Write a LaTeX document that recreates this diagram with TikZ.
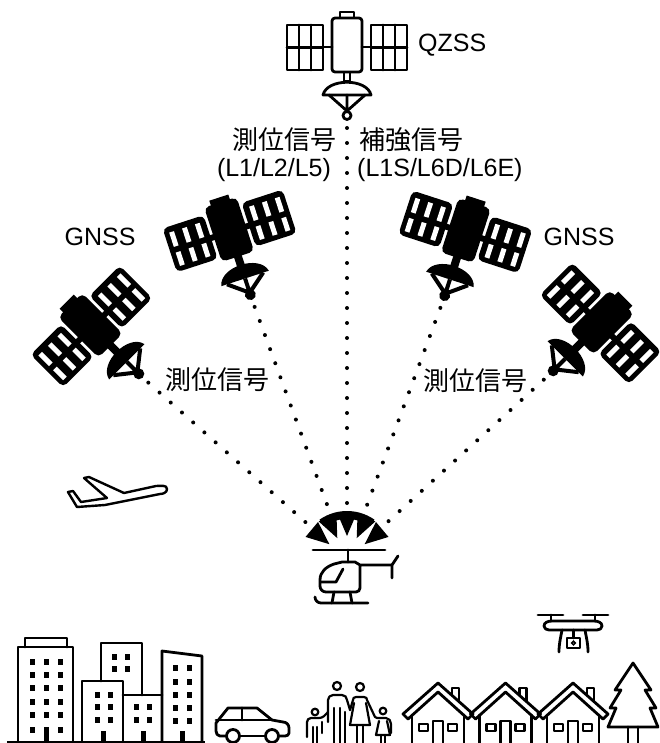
\documentclass[tikz,border=0pt]{standalone}
\usepackage{fontspec}
\setmainfont{Liberation Sans}
\newfontfamily\jp{Noto Sans CJK JP}
\usetikzlibrary{calc}

\tikzset{
  icon/.style={line width=2.8pt, line join=round, line cap=round},
  signal/.style={line width=4pt, line cap=round, dash pattern=on 0pt off 15pt,
                 shorten <=8pt, shorten >=50pt},
  txt/.style={font=\fontsize{25}{30}\selectfont, inner sep=0pt},
  jtxt/.style={font=\jp\fontsize{26}{30}\selectfont, inner sep=0pt},
  % outline satellite (QZSS)
  pics/qzss/.style={code={
    \draw[icon] (-7,-33) rectangle (7,-27);
    \draw[icon, rounded corners=3pt] (-15,-27) rectangle (15,27);
    \foreach \side in {-1,1} {
      \draw[icon] (\side*24,-20) rectangle (\side*60,25);
      \draw[icon] (\side*36,-20) -- (\side*36,25) (\side*48,-20) -- (\side*48,25)
                  (\side*24,2.5) -- (\side*60,2.5);
      \draw[icon] (\side*15,2) -- (\side*24,2);
    }
    \draw[icon] (-3,27) rectangle (3,36);
    \draw[icon] (-24,50) .. controls (-20,33) and (20,33) .. (24,50) -- cycle;
    \draw[icon] (-18,50) -- (0,66) -- (18,50) (0,50) -- (0,66);
    \draw[icon] (0,70.5) circle (4pt);
    \coordinate (-tip) at (0,75);
  }},
  % filled satellite (GNSS)
  pics/gnss/.style={code={
    \fill (-10,-33) rectangle (10,-25);
    \fill[rounded corners=5pt] (-17,-28) rectangle (17,29);
    \foreach \side in {-1,1} {
      \fill[rounded corners=5pt] (\side*20,-21) rectangle (\side*63,25);
      \fill (\side*15,0) rectangle (\side*21,6);
      \foreach \c in {0,1,2} \foreach \r in {0,1}
        \fill[white] ({\side*(26+13.5*\c)},{-15+21*\r}) rectangle ({\side*(31+13.5*\c)},{0+20*\r});
    }
    \fill (-4,26) rectangle (4,40);
    \fill (-25,52) .. controls (-21,33) and (21,33) .. (25,52) -- cycle;
    \draw[line width=4pt, line join=round] (-19,52) -- (0,67) -- (19,52) (0,52) -- (0,67);
    \fill (0,69) circle (5.5pt);
    \coordinate (-tip) at (0,74);
  }},
}

\begin{document}
\begin{tikzpicture}[x=1pt, y=-1pt]
  \useasboundingbox (0,0) rectangle (659,743);
  \clip (0,0) rectangle (659,743);

  % satellites
  \pic (qzss) at (347,45) {qzss};
  \pic[rotate=45] (satB) at (90,325) {gnss};
  \pic[rotate=18] (satA) at (229,229) {gnss};
  \pic[rotate=-18] (satD) at (466,230) {gnss};
  \pic[rotate=-45] (satC) at (602,322) {gnss};

  \coordinate (heli) at (347,559);

  % signals
  \draw[signal] (qzss-tip) -- (heli);
  \draw[signal] (satA-tip) -- (heli);
  \draw[signal] (satB-tip) -- (heli);
  \draw[signal] (satC-tip) -- (heli);
  \draw[signal] (satD-tip) -- (heli);

  % labels
  \node[txt, anchor=west] (qzssName) at (418,45) {QZSS};
  \node[txt] (gnssLeft) at (100,237) {GNSS};
  \node[txt] (gnssRight) at (579,237) {GNSS};
  \node[jtxt] (posTop) at (284,140) {測位信号};
  \node[txt] (bandL) at (274,170) {(L1/L2/L5)};
  \node[jtxt] (augTop) at (411,140) {補強信号};
  \node[txt, anchor=west] (bandR) at (357,170) {(L1S/L6D/L6E)};
  \node[jtxt] (posLeft) at (217,380) {測位信号};
  \node[jtxt] (posRight) at (475,381) {測位信号};

  % reception burst
  \begin{scope}[shift={(heli)}]
    \fill plot[domain=-125:-55, samples=15] (\x:48) -- plot[domain=-55:-125, samples=15] (\x:40) -- cycle;
    \foreach \a in {-140,-115,-90,-65,-40}
      \fill (\a-12:47) -- (\a:23) -- (\a+12:47) -- cycle;
  \end{scope}

  % helicopter
  \draw[icon] (313,550) -- (385,550);
  \draw[icon] (348,550) -- (348,562);
  \draw[icon] (392,565) -- (360,565) -- (360,588) to[out=-90,in=0] (356,592) -- (326,592)
              to[out=180,in=-90] (320,586) -- (320,580) to[out=90,in=200] (334,564) -- (342,562)
              -- (355,562) -- (360,565);
  \draw[icon] (343,569) -- (336,582) -- (321,582);
  \draw[icon] (398,556) -- (392,565) -- (392,578);
  \draw[icon] (315,597) to[out=-90,in=180] (321,603) -- (368,603);
  \draw[icon] (334,592) -- (332,603) (350,592) -- (352,603);

  % airplane
  \draw[icon, line width=2.4pt] (68,492) -- (73,491) -- (81,502) -- (107,498) -- (84,478) -- (89,477)
        -- (124,493) -- (156,486) to[out=0,in=90] (167,489) to[out=-90,in=0] (160,494)
        -- (105,505) -- (77,507) -- cycle;

  % drone
  \draw[icon] (538,615) -- (563,615) (583,615) -- (608,615);
  \draw[icon] (551,615) -- (551,621) (595,615) -- (595,621);
  \draw[icon] (552,621) -- (594,621) to[out=0,in=90] (602,626) to[out=-90,in=0] (597,630)
              -- (549,630) to[out=180,in=-90] (544,626) to[out=90,in=180] (552,621);
  \draw[icon] (562,630) to[out=-100,in=90] (559,652) (585,630) to[out=-80,in=90] (588,652);
  \draw[icon] (573.5,630) -- (573.5,638);
  \draw[icon] (567,638) rectangle (580,648);
  \draw[line width=1.5pt] (573.5,643) circle (1.8pt);

  % buildings
  \draw[line width=1.2pt] (7,742) -- (205,742);
  \draw[icon] (18,743) -- (18,647) -- (73,647) -- (73,743);
  \draw[icon] (25,647) -- (25,638) -- (67,638) -- (67,647);
  \foreach \x in {32,46,60} \foreach \y in {662,675,688,702,715}
    \fill (\x-2.5,\y-3) rectangle (\x+2.5,\y+3);
  \foreach \x in {32,60} \fill (\x-2.5,727) rectangle (\x+2.5,733);
  \fill (43.5,727) rectangle (48.5,743);

  \draw[icon] (101,681) -- (101,643) -- (142,643) -- (142,695);
  \foreach \x in {114,127} \foreach \y in {657,669}
    \fill (\x-2.5,\y-3) rectangle (\x+2.5,\y+3);

  \draw[icon] (82,743) -- (82,681) -- (123,681) -- (123,743);
  \foreach \x in {97,110} \foreach \y in {695,707,720}
    \fill (\x-2.5,\y-3) rectangle (\x+2.5,\y+3);
  \fill (100.5,731) rectangle (105.5,743);

  \draw[icon] (123,695) -- (162,695);
  \foreach \x in {136,149} \foreach \y in {707,720}
    \fill (\x-2.5,\y-3) rectangle (\x+2.5,\y+3);
  \fill (140.5,731) rectangle (145.5,743);

  \draw[icon] (162,743) -- (162,651) -- (202,656) -- (202,743);
  \foreach \x in {175,189} \foreach \y in {668,682,695,708,721}
    \fill (\x-2.5,\y-3) rectangle (\x+2.5,\y+3);
  \fill (179.5,731) rectangle (184.5,743);

  % car
  \draw[icon] (240,736) -- (265,736);
  \draw[icon] (226,736) -- (220,736) to[out=180,in=-90] (216,731) -- (216,723) -- (228,708)
              -- (257,708) -- (272,720) -- (283,722) to[out=0,in=90] (289,728) -- (289,733)
              to[out=-90,in=0] (285,736) -- (279,736);
  \draw[icon] (233,736) circle (6.5pt) (272,736) circle (6.5pt);
  \draw[icon] (216,720) -- (272,720) (242,708) -- (242,720);

  % family
  \draw[icon, line width=2.2pt] (315,712) circle (3.3pt) (337,686) circle (4pt)
        (360,687) circle (4pt) (383,711) circle (3.3pt);
  \draw[icon, line width=2.2pt] (307,737) -- (307,722) to[out=90,in=180] (311,718) -- (319,718)
        to[out=0,in=-135] (328,712);
  \draw[icon, line width=2.2pt] (313,743) -- (313,727) (317,743) -- (317,727) (322,722) -- (322,733);
  \draw[icon, line width=2.2pt] (328,722) -- (328,700) to[out=90,in=180] (333,695) -- (342,695)
        to[out=0,in=90] (347,700) -- (350,710);
  \draw[icon, line width=2.2pt] (334,743) -- (334,708) (340,743) -- (340,708) (345,743) -- (345,712);
  \draw[icon, line width=2.2pt] (350,710) -- (353,700) to[out=110,in=180] (356,697) -- (364,697)
        to[out=0,in=70] (367,700) -- (375,717);
  \draw[icon, line width=2.2pt] (354,703) -- (350,725) -- (370,725) -- (366,703);
  \draw[icon, line width=2.2pt] (357,725) -- (357,743) (363,725) -- (363,743);
  \draw[icon, line width=2.2pt] (375,717) to[out=-45,in=180] (380,718) -- (386,718)
        to[out=0,in=90] (391,724) -- (391,733);
  \draw[icon, line width=2.2pt] (379,721) -- (376,735) -- (390,735) -- (387,721);
  \draw[icon, line width=2.2pt] (381,735) -- (381,743) (385,735) -- (385,743);

  % houses
  \foreach \p in {438,505.5,573} {
    \draw[icon] (\p-35,714) -- (\p,683) -- (\p+35,714) -- (\p+30,719) -- (\p,692) -- (\p-30,719) -- cycle;
    \draw[icon] (\p+14,695) -- (\p+14,688) -- (\p+21,688) -- (\p+21,701);
    \draw[icon] (\p-26,715) -- (\p-26,743) (\p+26,715) -- (\p+26,743);
    \draw[icon, line width=2.2pt] (\p-19,724) rectangle (\p-10,731) (\p+10,724) rectangle (\p+19,731);
    \draw[icon, line width=2.2pt] (\p-5,745) -- (\p-5,721) -- (\p+5,721) -- (\p+5,745);
  }

  % tree
  \draw[icon] (633,663) -- (651,690) -- (645,690) -- (656,708) -- (650,708) -- (658,727)
              -- (608,727) -- (616,708) -- (610,708) -- (621,690) -- (615,690) -- cycle;
  \draw[icon] (628,727) -- (628,745) (638,727) -- (638,745);
\end{tikzpicture}
\end{document}
